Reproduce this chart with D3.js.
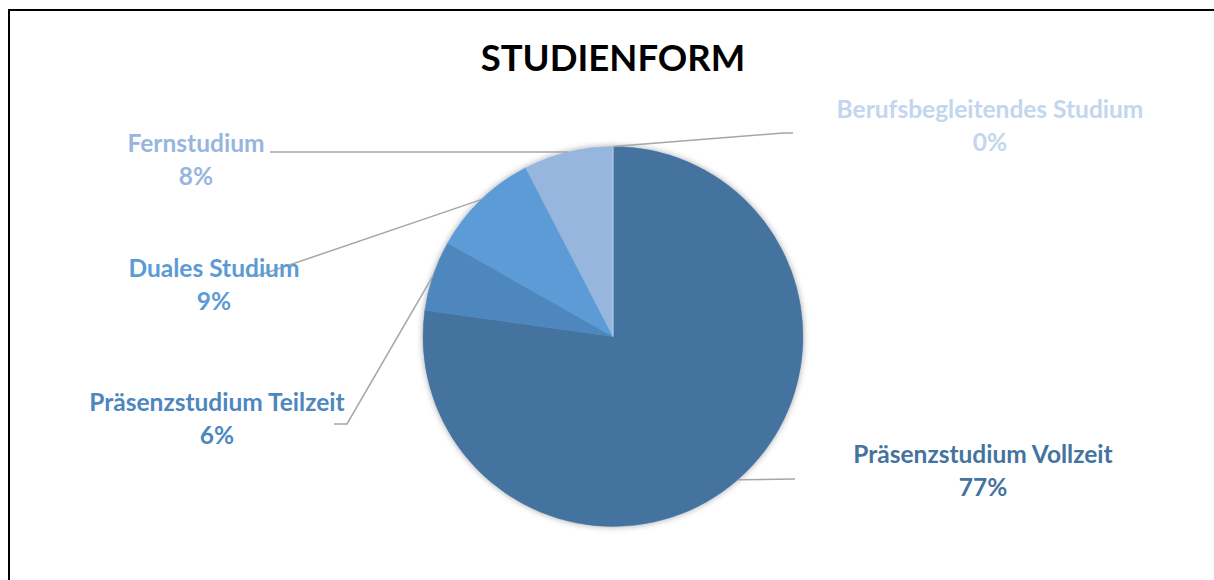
<!DOCTYPE html>
<html>
<head>
<meta charset="utf-8">
<script src="https://cdn.jsdelivr.net/npm/d3@7"></script>
<style>
  body { margin: 0; background: #fff; }
  text { font-family: Lato, "Open Sans", sans-serif; font-weight: bold; }
</style>
</head>
<body>
<svg></svg>
<script>
const categories = ['Präsenzstudium Vollzeit', 'Präsenzstudium Teilzeit', 'Duales Studium', 'Fernstudium', 'Berufsbegleitendes Studium'];
const shares = [77.2, 6.0, 9.2, 7.6, 0];
const colors = ['#44739f', '#4d87be', '#5b9bd5', '#96b6de', '#bdd7ee'];
const labelColors = ['#44739f', '#4d87be', '#5b9bd5', '#96b6de', '#c2d6ee'];

// label anchor (centre of text) and leader line bend points, per slice
const labelLayout = [
  {x: 983, y: 463, path: [[795, 479]]},
  {x: 217, y: 411, path: [[347, 424], [334, 424]]},
  {x: 214, y: 277, path: [[257, 276], [247, 276]]},
  {x: 196, y: 152, path: [[270, 152]]},
  {x: 990, y: 118, path: [[783, 133], [793, 133]]}
];

const width = 1214, height = 580;
const cx = 613, cy = 336.5, radius = 190;

const svg = d3.select('svg')
  .attr('width', width)
  .attr('height', height);

const defs = svg.append('defs');
const shadow = defs.append('filter').attr('id', 'shadow')
  .attr('x', '-20%').attr('y', '-20%').attr('width', '140%').attr('height', '140%');
shadow.append('feDropShadow')
  .attr('dx', 0).attr('dy', 0).attr('stdDeviation', 3)
  .attr('flood-color', '#000').attr('flood-opacity', 0.35);

// frame
svg.append('path')
  .attr('d', `M9,${height} V10 H${width}`)
  .attr('fill', 'none')
  .attr('stroke', '#000')
  .attr('stroke-width', 2);

svg.append('text')
  .attr('x', cx)
  .attr('y', 71)
  .attr('text-anchor', 'middle')
  .attr('font-size', 36.5)
  .attr('fill', '#000')
  .text('STUDIENFORM');

const data = categories.map((c, i) => ({name: c, value: shares[i], i}));

const pie = d3.pie().sort(null).value(d => d.value);
const arcs = pie(data);
const arc = d3.arc().innerRadius(0).outerRadius(radius);

const g = svg.append('g')
  .attr('transform', `translate(${cx}, ${cy})`);

g.append('g')
  .attr('filter', 'url(#shadow)')
  .selectAll('path')
  .data(arcs)
  .join('path')
    .attr('d', arc)
    .attr('fill', d => colors[d.data.i])
    .attr('stroke', d => colors[d.data.i])
    .attr('stroke-width', 0.5);

// leader lines from slice mid-angle on the rim
const line = d3.line();
svg.append('g')
  .selectAll('path')
  .data(arcs)
  .join('path')
    .attr('d', d => {
      const a = (d.startAngle + d.endAngle) / 2;
      const start = [cx + radius * Math.sin(a), cy - radius * Math.cos(a)];
      return line([start, ...labelLayout[d.data.i].path]);
    })
    .attr('fill', 'none')
    .attr('stroke', '#a6a6a6')
    .attr('stroke-width', 1.5);

const fmt = d3.format('.0%');
const labels = svg.append('g')
  .selectAll('text')
  .data(arcs)
  .join('text')
    .attr('text-anchor', 'middle')
    .attr('font-size', 24.5)
    .attr('fill', d => labelColors[d.data.i]);

labels.append('tspan')
  .attr('x', d => labelLayout[d.data.i].x)
  .attr('y', d => labelLayout[d.data.i].y)
  .text(d => d.data.name);

labels.append('tspan')
  .attr('x', d => labelLayout[d.data.i].x)
  .attr('y', d => labelLayout[d.data.i].y + 33)
  .text(d => fmt(d.data.value / 100));
</script>
</body>
</html>
